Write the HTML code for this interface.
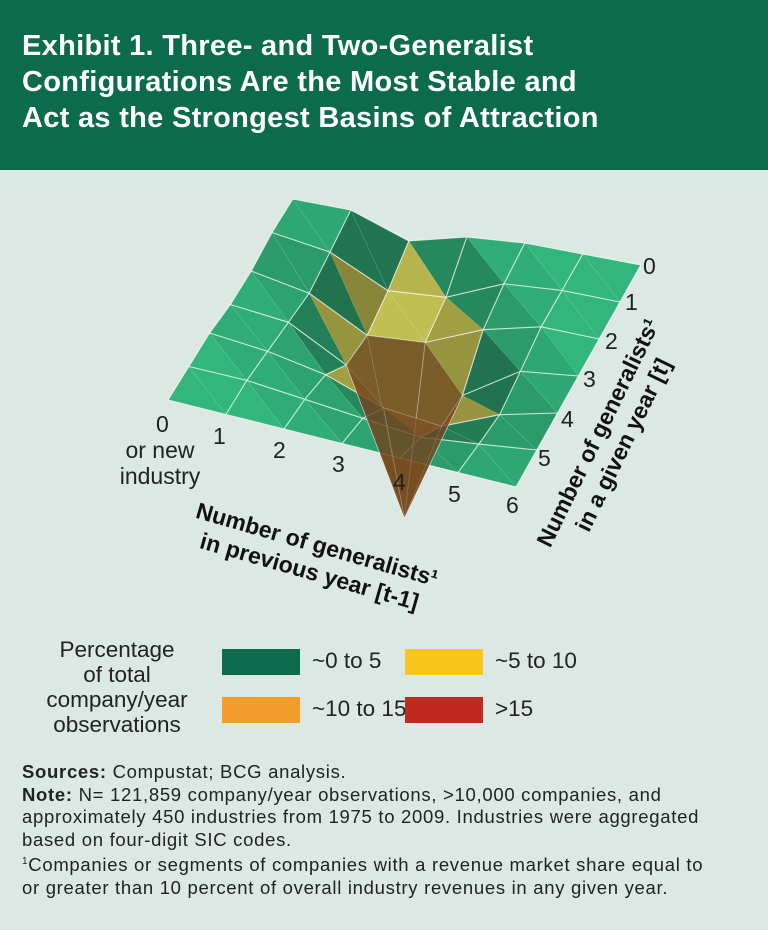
<!DOCTYPE html>
<html><head><meta charset="utf-8"><style>
body{margin:0;width:768px;height:930px;background:#dce8e3;font-family:"Liberation Sans",sans-serif;position:relative;overflow:hidden}
#hdr{position:absolute;left:0;top:0;width:768px;height:170px;background:#0b6b4b}
#title{position:absolute;left:22px;top:28px;color:#fff;font-weight:bold;font-size:29px;line-height:36px;letter-spacing:0.3px}
#notes{position:absolute;left:22px;top:761px;font-size:18.5px;line-height:22.5px;color:#222;width:745px;white-space:nowrap;letter-spacing:0.7px}
.sw{position:absolute;width:78px;height:26px}
.lt{position:absolute;font-size:22.5px;color:#222}
</style></head><body>
<div id="hdr"></div>
<div id="title">Exhibit 1. Three- and Two-Generalist<br>Configurations Are the Most Stable and<br>Act as the Strongest Basins of Attraction</div>
<svg id="chart" width="768" height="930" style="position:absolute;left:0;top:0">
<g id="surf"></g>
<g font-size="23" fill="#222">
<text x="156" y="432">0</text><text x="213" y="444">1</text><text x="273" y="458">2</text><text x="332" y="472">3</text><text x="393" y="490">4</text><text x="448" y="502">5</text><text x="506" y="513">6</text>
<text x="160" y="458" text-anchor="middle">or new</text><text x="160" y="484" text-anchor="middle">industry</text>
</g>
<g font-size="23" fill="#222">
<text x="643" y="274">0</text><text x="625" y="310">1</text><text x="605" y="349">2</text><text x="583" y="387">3</text><text x="561" y="427">4</text><text x="538" y="466">5</text>
</g>
<text transform="translate(315,552) rotate(16)" text-anchor="middle" font-size="23" font-weight="bold" fill="#111"><tspan x="0" dy="0">Number of generalists¹</tspan><tspan x="0" dy="28">in previous year [t-1]</tspan></text>
<text transform="translate(605,436) rotate(-64)" text-anchor="middle" font-size="23" font-weight="bold" fill="#111"><tspan x="0" dy="0">Number of generalists¹</tspan><tspan x="0" dy="28">in a given year [t]</tspan></text>
</svg>
<div class="lt" style="left:20px;top:637px;width:194px;text-align:center;line-height:25px">Percentage<br>of total<br>company/year<br>observations</div>
<div class="sw" style="left:222px;top:649px;background:#0b6b4c"></div>
<div class="lt" style="left:312px;top:648px">~0 to 5</div>
<div class="sw" style="left:405px;top:649px;background:#f6c61c"></div>
<div class="lt" style="left:495px;top:648px">~5 to 10</div>
<div class="sw" style="left:222px;top:697px;background:#f49c2a"></div>
<div class="lt" style="left:312px;top:696px">~10 to 15</div>
<div class="sw" style="left:405px;top:697px;background:#c0291f"></div>
<div class="lt" style="left:495px;top:696px">&gt;15</div>
<div id="notes"><b>Sources:</b> Compustat; BCG analysis.<br><b>Note:</b> N= 121,859 company/year observations, &gt;10,000 companies, and<br>approximately 450 industries from 1975 to 2009. Industries were aggregated<br>based on four-digit SIC codes.<br><sup style="font-size:10px">1</sup>Companies or segments of companies with a revenue market share equal to<br>or greater than 10 percent of overall industry revenues in any given year.</div>
<script>
const prevYear=[0,1,2,3,4,5,6];
const givenYear=[0,1,2,3,4,5,6];
const row0=[0,0,20,5,0,0,0];
const row1=[0,8,35,30,5,0,0];
const row2=[5,15,45,40,15,0,0];
const row3=[5,10,40,180,45,8,0];
const row4=[0,5,15,35,40,15,0];
const row5=[0,0,5,10,15,8,0];
const row6=[0,0,0,0,0,0,0];
const depth=[row0,row1,row2,row3,row4,row5,row6];
function px(i,j){return 168+i*58+(6-j)*20.8;}
function py(i,j,d){return 400+i*14.5-(6-j)*33.5-21*(i/6)*((6-j)/6)+d;}
const g=document.getElementById('surf');
const NS='http://www.w3.org/2000/svg';
const tipTris=[];
function tri(pts,late){
  const P=pts.map(p=>[px(p[0],p[1]),py(p[0],p[1],depth[p[1]][p[0]]),depth[p[1]][p[0]]]);
  const m=(P[0][2]+P[1][2]+P[2][2])/3;
  const mx=Math.max(P[0][2],P[1][2],P[2][2]);
  if(mx>=150&&!late){tipTris.push(pts);}
  let c;
  if(mx>=150)c=late?[190,110,50]:[214,212,90];else if(m>28)c=[214,212,90];else c=[50,182,124];
  const dz=Math.abs(P[0][2]-P[1][2])+Math.abs(P[1][2]-P[2][2])+Math.abs(P[0][2]-P[2][2]);
  const f=Math.max(0.6,1-dz/(late?500:200));
  const el=document.createElementNS(NS,'polygon');
  el.setAttribute('points',P.map(p=>p[0].toFixed(1)+','+p[1].toFixed(1)).join(' '));
  el.setAttribute('fill','rgb('+c.map(v=>Math.round(v*f)).join(',')+')');
  if(late)el.setAttribute('fill-opacity','0.55');
  el.setAttribute('stroke','rgba(255,255,255,0.12)');
  el.setAttribute('stroke-width','0.6');
  
  
  g.appendChild(el);
}
for(let j=0;j<givenYear.length-1;j++){for(let i=0;i<prevYear.length-1;i++){
  tri([[i,j],[i+1,j],[i+1,j+1]]);tri([[i,j],[i+1,j+1],[i,j+1]]);
}}
function line(pts){
  const el=document.createElementNS(NS,'polyline');
  el.setAttribute('points',pts.map(p=>px(p[0],p[1]).toFixed(1)+','+py(p[0],p[1],depth[p[1]][p[0]]).toFixed(1)).join(' '));
  el.setAttribute('fill','none');el.setAttribute('stroke','rgba(255,255,255,0.7)');el.setAttribute('stroke-width','1.1');
  
  
  g.appendChild(el);
}
for(let j=0;j<7;j++){line(prevYear.map(i=>[i,j]));}
for(let i=0;i<7;i++){line(givenYear.map(j=>[i,j]));}
tipTris.forEach(t=>tri(t,true));
</script>
</body></html>
